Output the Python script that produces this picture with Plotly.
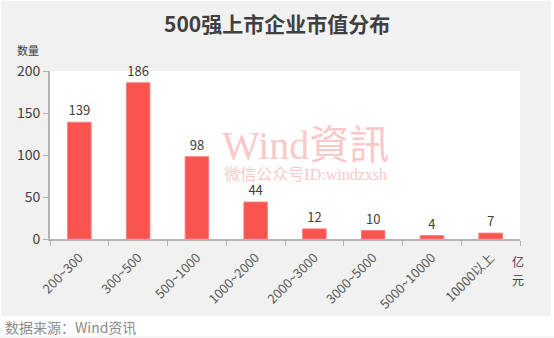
import plotly.graph_objects as go

# Market-cap bands (亿元) and number of top-500 listed companies in each
categories = ["200~300", "300~500", "500~1000", "1000~2000", "2000~3000",
              "3000~5000", "5000~10000", "10000以上"]
counts = [139, 186, 98, 44, 12, 10, 4, 7]
y_ticks = [0, 50, 100, 150, 200]

W, H = 554, 338
L, R, T, B = 50, 34, 71, 99
pw, ph = W - L - R, H - T - B


def px_x(x):
    return (x - L) / pw


def px_y(y):
    return (H - B - y) / ph


FONT = "Noto Sans CJK SC, Open Sans, sans-serif"

fig = go.Figure()
fig.add_trace(go.Bar(
    x=categories, y=counts, width=0.4,
    marker=dict(color="#F9534F", line=dict(color="#FB7E7B", width=1)),
    text=[str(v) for v in counts], textposition="outside",
    textfont=dict(family=FONT, size=13, color="#404040"),
    cliponaxis=False,
))

shapes = [
    # grey card behind title and chart
    dict(type="rect", xref="paper", yref="paper", layer="below",
         x0=px_x(1), x1=px_x(551), y0=px_y(316), y1=px_y(1),
         fillcolor="#F1F1F1", line=dict(width=0)),
    # white plotting area
    dict(type="rect", xref="paper", yref="paper", layer="below",
         x0=0, x1=1, y0=0, y1=1, fillcolor="white", line=dict(width=0)),
    # thin rule under the source line
    dict(type="line", xref="paper", yref="paper",
         x0=px_x(0), x1=px_x(554), y0=px_y(337), y1=px_y(337),
         line=dict(color="#EEEEEE", width=1)),
]

annotations = [
    dict(text="<b>500强上市企业市值分布</b>", xref="paper", yref="paper",
         x=px_x(277), y=px_y(23), showarrow=False, xanchor="center", yanchor="middle",
         font=dict(family=FONT, size=21, color="#404040")),
    dict(text="数量", xref="paper", yref="paper", x=px_x(28), y=px_y(50),
         showarrow=False, xanchor="center", yanchor="middle",
         font=dict(family=FONT, size=11, color="#404040")),
    dict(text="亿", xref="paper", yref="paper", x=px_x(518), y=px_y(261),
         showarrow=False, xanchor="center", yanchor="middle",
         font=dict(family=FONT, size=12, color="#404040")),
    dict(text="元", xref="paper", yref="paper", x=px_x(518), y=px_y(279),
         showarrow=False, xanchor="center", yanchor="middle",
         font=dict(family=FONT, size=12, color="#404040")),
    dict(text="数据来源：Wind资讯", xref="paper", yref="paper", x=px_x(3), y=px_y(327),
         showarrow=False, xanchor="left", yanchor="middle",
         font=dict(family=FONT, size=14, color="#8C8C8C")),
    # watermark (two lines in one block)
    dict(text="<span style='font-size:40px'>Wind資訊</span><br>微信公众号ID:windzxsh",
         xref="paper", yref="paper", x=px_x(305), y=px_y(153),
         showarrow=False, xanchor="center", yanchor="middle",
         font=dict(family="Liberation Serif, Noto Sans CJK SC", size=16, color="#FAC8C8")),
]

fig.update_layout(
    width=W, height=H,
    margin=dict(l=L, r=R, t=T, b=B, pad=0),
    paper_bgcolor="white", plot_bgcolor="white",
    showlegend=False, bargap=0.6,
    shapes=shapes, annotations=annotations,
    xaxis=dict(
        type="category", tickangle=-45, tickson="boundaries",
        showline=True, linecolor="#B4B4B4", linewidth=2,
        ticks="outside", ticklen=5, tickcolor="#B4B4B4", tickwidth=1,
        showgrid=False, zeroline=False, ticklabelstandoff=4,
        tickfont=dict(family=FONT, size=13, color="#595959"),
    ),
    yaxis=dict(
        range=[0, 200], tickvals=y_ticks,
        showline=True, linecolor="#B4B4B4", linewidth=2,
        ticks="outside", ticklen=5, tickcolor="#B4B4B4", tickwidth=1,
        showgrid=False, zeroline=False,
        tickfont=dict(family=FONT, size=14, color="#404040"),
    ),
)

fig.write_html("out.html")
